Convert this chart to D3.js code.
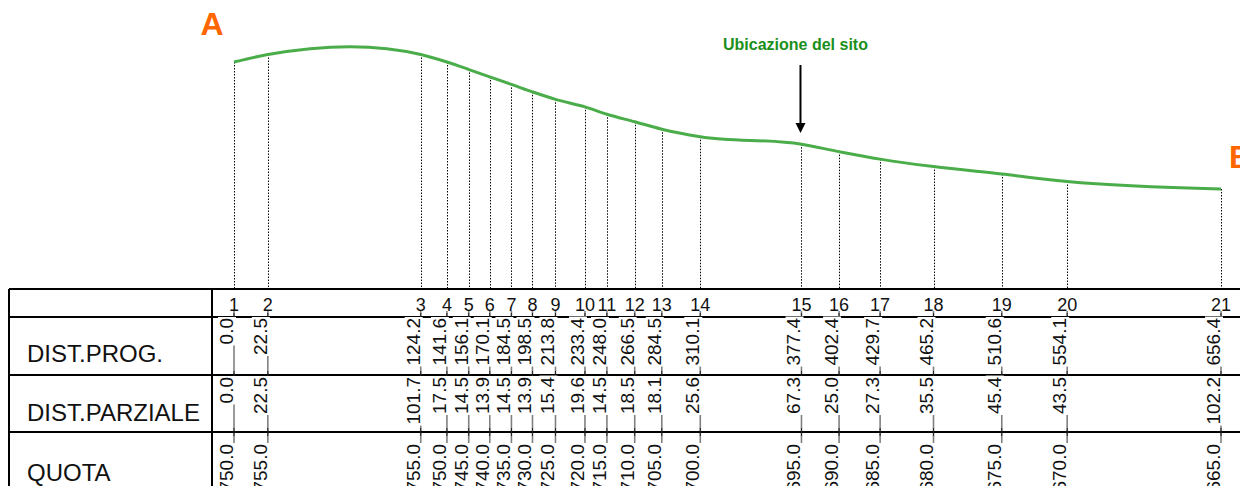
<!DOCTYPE html>
<html>
<head>
<meta charset="utf-8">
<script src="https://cdn.jsdelivr.net/npm/d3@7"></script>
<style>
  body { margin: 0; background: white; }
  svg { display: block; font-family: 'Liberation Sans', Arial, sans-serif; }
</style>
</head>
<body>
<script>
// Profile data
var pointLabels = ['1', '2', '3', '4', '5', '6', '7', '8', '9', '10', '11', '12', '13', '14', '15', '16', '17', '18', '19', '20', '21'];
var distProg = [0.0, 22.5, 124.2, 141.6, 156.1, 170.1, 184.5, 198.5, 213.8, 233.4, 248.0, 266.5, 284.5, 310.1, 377.4, 402.4, 429.7, 465.2, 510.6, 554.1, 656.4];
var distParz = [0.0, 22.5, 101.7, 17.5, 14.5, 13.9, 14.5, 13.9, 15.4, 19.6, 14.5, 18.5, 18.1, 25.6, 67.3, 25.0, 27.3, 35.5, 45.4, 43.5, 102.2];
var quota = [750.0, 755.0, 755.0, 750.0, 745.0, 740.0, 735.0, 730.0, 725.0, 720.0, 715.0, 710.0, 705.0, 700.0, 695.0, 690.0, 685.0, 680.0, 675.0, 670.0, 665.0];
var rowLabels = ['DIST.PROG.', 'DIST.PARZIALE', 'QUOTA'];
var siteIndex = 14;
var siteLabel = 'Ubicazione del sito';

var totalWidth = 1240;
var totalHeight = 486;

// Table geometry
var tableLeft = 9;
var tableTop = 289;
var labelCol = 212;
var rowLines = [317, 375, 432];
var rowTops = [317, 375, 432];
var valueOffsets = [1, 2, 12];
var labelBaselines = [362, 421, 481];

// Scales
var x = d3.scaleLinear().domain([0, d3.max(distProg)]).range([234, 1221]);
var y = d3.scaleLinear().domain([665, 750]).range([189, 62]);

var points = distProg.map(function(d, i) {
  return { label: pointLabels[i], prog: d, parz: distParz[i], quota: quota[i] };
});

var svg = d3.select('body')
  .append('svg')
  .attr('width', totalWidth)
  .attr('height', totalHeight);

// Dotted verticals from the profile down to the table
svg.append('g')
  .selectAll('line')
  .data(points)
  .enter().append('line')
  .attr('x1', function(d) { return Math.round(x(d.prog)) + 0.5; })
  .attr('x2', function(d) { return Math.round(x(d.prog)) + 0.5; })
  .attr('y1', function(d) { return y(d.quota); })
  .attr('y2', tableTop)
  .attr('stroke', '#000')
  .attr('stroke-width', 1)
  .attr('stroke-dasharray', '1.5,1.5');

// Profile line
var line = d3.line()
  .x(function(d) { return x(d.prog); })
  .y(function(d) { return y(d.quota); })
  .curve(d3.curveCatmullRom.alpha(1));

svg.append('path')
  .datum(points)
  .attr('d', line)
  .attr('fill', 'none')
  .attr('stroke', '#4aad4a')
  .attr('stroke-width', 3);

// A / B end labels
svg.append('text')
  .attr('x', x(0) - 22)
  .attr('y', 35)
  .attr('text-anchor', 'middle')
  .attr('font-size', 32)
  .attr('font-weight', 'bold')
  .attr('fill', '#ff6600')
  .text('A');

svg.append('text')
  .attr('x', x(d3.max(distProg)) + 8)
  .attr('y', 168)
  .attr('font-size', 32)
  .attr('font-weight', 'bold')
  .attr('fill', '#ff6600')
  .text('B');

// Site marker
var siteX = x(distProg[siteIndex]) - 1;
svg.append('text')
  .attr('x', siteX - 5)
  .attr('y', 50)
  .attr('text-anchor', 'middle')
  .attr('font-size', 16)
  .attr('font-weight', 'bold')
  .attr('fill', '#1a8f1a')
  .text(siteLabel);

svg.append('line')
  .attr('x1', siteX)
  .attr('x2', siteX)
  .attr('y1', 65)
  .attr('y2', 124)
  .attr('stroke', 'black')
  .attr('stroke-width', 2);

svg.append('path')
  .attr('d', 'M' + (siteX - 5) + ',123L' + (siteX + 5) + ',123L' + siteX + ',133Z')
  .attr('fill', 'black');

// Table: gray column lines
var table = svg.append('g');

table.selectAll('.col')
  .data(points)
  .enter().append('line')
  .attr('class', 'col')
  .attr('x1', function(d) { return x(d.prog); })
  .attr('x2', function(d) { return x(d.prog); })
  .attr('y1', 311)
  .attr('y2', totalHeight)
  .attr('stroke', '#808080')
  .attr('stroke-width', 1.6);

// Table: black borders
table.append('line')
  .attr('x1', tableLeft).attr('x2', totalWidth)
  .attr('y1', tableTop).attr('y2', tableTop)
  .attr('stroke', 'black').attr('stroke-width', 2);

rowLines.forEach(function(ry) {
  table.append('line')
    .attr('x1', tableLeft).attr('x2', totalWidth)
    .attr('y1', ry).attr('y2', ry)
    .attr('stroke', 'black').attr('stroke-width', 2);

  // small ticks across the row line
  table.selectAll(null)
    .data(points)
    .enter().append('line')
    .attr('x1', function(d) { return x(d.prog); })
    .attr('x2', function(d) { return x(d.prog); })
    .attr('y1', ry - 4)
    .attr('y2', ry + 4)
    .attr('stroke', '#222')
    .attr('stroke-width', 1);
});

table.append('line')
  .attr('x1', tableLeft).attr('x2', tableLeft)
  .attr('y1', tableTop).attr('y2', totalHeight)
  .attr('stroke', 'black').attr('stroke-width', 2);

table.append('line')
  .attr('x1', labelCol).attr('x2', labelCol)
  .attr('y1', tableTop).attr('y2', totalHeight)
  .attr('stroke', 'black').attr('stroke-width', 2);

// Row titles
rowLabels.forEach(function(lbl, i) {
  table.append('text')
    .attr('x', 27)
    .attr('y', labelBaselines[i])
    .attr('font-size', 24)
    .attr('fill', '#111')
    .text(lbl);
});

// Point numbers
table.selectAll('.num')
  .data(points)
  .enter().append('text')
  .attr('class', 'num')
  .attr('x', function(d) { return x(d.prog); })
  .attr('y', 311)
  .attr('text-anchor', 'middle')
  .attr('font-size', 18)
  .attr('fill', '#111')
  .text(function(d) { return d.label; });

// Rotated values with white mask behind them
var rowValues = [
  function(d) { return d.prog.toFixed(1); },
  function(d) { return d.parz.toFixed(1); },
  function(d) { return d.quota.toFixed(1); }
];

rowValues.forEach(function(fmt, r) {
  var g = table.selectAll(null)
    .data(points)
    .enter().append('g')
    .attr('transform', function(d) {
      return 'translate(' + (x(d.prog) - 1) + ',' + (rowTops[r] + valueOffsets[r]) + ') rotate(-90)';
    });

  var mask = g.append('rect').attr('fill', 'white');

  var t = g.append('text')
    .attr('text-anchor', 'end')
    .attr('font-size', 19)
    .attr('fill', '#111')
    .text(fmt);

  t.each(function() {
    var b = this.getBBox();
    d3.select(this.previousSibling)
      .attr('x', b.x - 1)
      .attr('y', b.y + 2)
      .attr('width', b.width + 2)
      .attr('height', b.height - 3);
  });
});
</script>
</body>
</html>
